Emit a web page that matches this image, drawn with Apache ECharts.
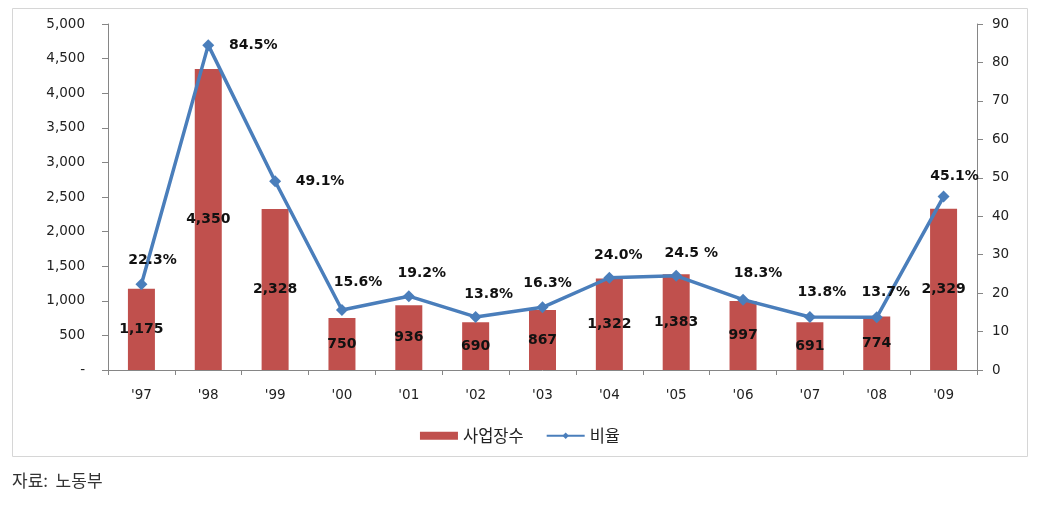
<!DOCTYPE html>
<html>
<head>
<meta charset="utf-8">
<script src="https://cdn.jsdelivr.net/npm/echarts@6/dist/echarts.min.js"></script>
<style>
html,body{margin:0;padding:0;background:#fff;}
#chart{width:1040px;height:506px;}
</style>
</head>
<body>
<div id="chart"></div>
<script>
const years = ["'97","'98","'99","'00","'01","'02","'03","'04","'05","'06","'07","'08","'09"];
const workplaces = [1175, 4350, 2328, 750, 936, 690, 867, 1322, 1383, 997, 691, 774, 2329];
const ratio = [22.3, 84.5, 49.1, 15.6, 19.2, 13.8, 16.3, 24.0, 24.5, 18.3, 13.8, 13.7, 45.1];
const ratioLabels = ['22.3%','84.5%','49.1%','15.6%','19.2%','13.8%','16.3%','24.0%','24.5 %','18.3%','13.8%','13.7%','45.1%'];
const leftTicks = {min: 0, max: 5000, interval: 500};
const rightTicks = {min: 0, max: 90, interval: 10};
const seriesNames = ['사업장수', '비율'];
const sourceText = '자료:  노동부';

// label placement (layout only, not data)
const labelOffsets = [[11,-24],[45,0],[45,0],[16,-28],[13,-23],[13,-23],[5,-24],[9,-22],[15,-22],[15,-26],[12,-25],[9,-25],[11,-20]];

const chart = echarts.init(document.getElementById('chart'));
const axisFont = {fontFamily: 'DejaVu Sans', fontSize: 13.5, color: '#222'};
const labelFont = {fontFamily: 'DejaVu Sans', fontSize: 14, fontWeight: 'bold', color: '#111'};
const axisLineColor = '#868686';

chart.setOption({
  animation: false,
  backgroundColor: '#fff',
  grid: {left: 108, right: 63, top: 24, bottom: 136},
  legend: {
    bottom: 57,
    left: 'center',
    itemWidth: 38,
    itemHeight: 8,
    itemGap: 22,
    textStyle: {fontFamily: 'Noto Sans CJK KR', fontSize: 16.5, color: '#222'},
    data: [
      {name: seriesNames[0], icon: 'rect'},
      {name: seriesNames[1]}
    ]
  },
  graphic: [
    {type: 'rect', shape: {x: 12.5, y: 8.5, width: 1015, height: 448}, style: {fill: 'none', stroke: '#d6d6d6', lineWidth: 1}, silent: true},
    {type: 'text', left: 12, top: 472, style: {text: sourceText, font: '17px "Noto Sans CJK KR"', fill: '#333'}}
  ],
  xAxis: {
    type: 'category',
    data: years,
    boundaryGap: true,
    axisLine: {lineStyle: {color: axisLineColor}},
    axisTick: {show: true, length: 5, alignWithLabel: false, lineStyle: {color: axisLineColor}},
    axisLabel: Object.assign({margin: 18}, axisFont)
  },
  yAxis: [
    {
      type: 'value', position: 'left',
      min: leftTicks.min, max: leftTicks.max, interval: leftTicks.interval,
      axisLine: {show: true, lineStyle: {color: axisLineColor}},
      axisTick: {show: true, length: 6, lineStyle: {color: axisLineColor}},
      splitLine: {show: false},
      axisLabel: Object.assign({margin: 23, formatter: v => v === 0 ? '-' : v.toLocaleString('en-US')}, axisFont)
    },
    {
      type: 'value', position: 'right',
      min: rightTicks.min, max: rightTicks.max, interval: rightTicks.interval,
      axisLine: {show: true, lineStyle: {color: axisLineColor}},
      axisTick: {show: true, length: 6, lineStyle: {color: axisLineColor}},
      splitLine: {show: false},
      axisLabel: Object.assign({margin: 15}, axisFont)
    }
  ],
  series: [
    {
      name: seriesNames[0],
      type: 'bar',
      yAxisIndex: 0,
      barWidth: 27,
      itemStyle: {color: '#C0504D'},
      label: Object.assign({show: true, position: 'inside', formatter: p => p.value.toLocaleString('en-US')}, labelFont),
      data: workplaces
    },
    {
      name: seriesNames[1],
      type: 'line',
      yAxisIndex: 1,
      symbol: 'diamond',
      symbolSize: 12,
      lineStyle: {color: '#4A7EBB', width: 3.5},
      itemStyle: {color: '#4A7EBB'},
      z: 3,
      data: ratio.map((v, i) => ({
        value: v,
        label: Object.assign({
          show: true, position: 'inside',
          offset: labelOffsets[i],
          formatter: ratioLabels[i]
        }, labelFont)
      }))
    }
  ]
});
</script>
</body>
</html>
